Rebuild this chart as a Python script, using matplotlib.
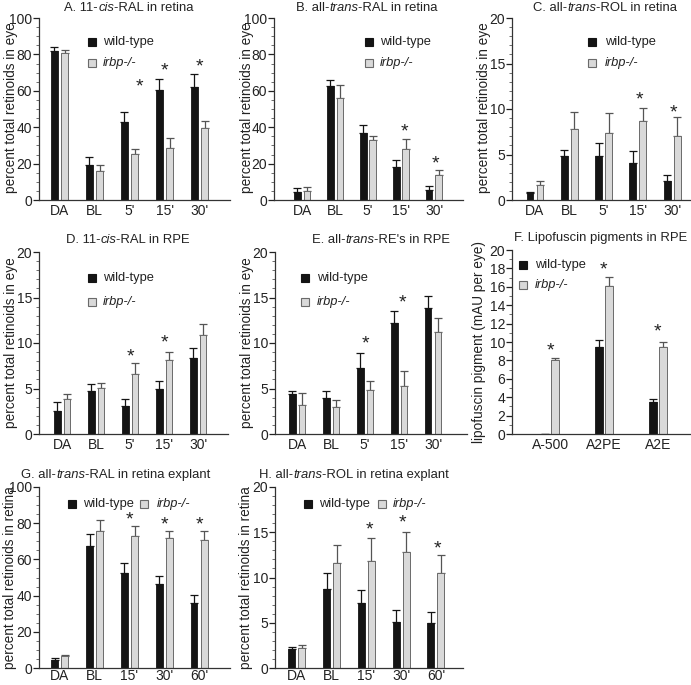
import matplotlib
matplotlib.use("Agg")
import matplotlib.pyplot as plt
from matplotlib.ticker import MultipleLocator

plt.rcParams['font.family'] = ['Liberation Sans', 'DejaVu Sans']

W, H = 691, 685

# ---------------- data ----------------
cats_eye = ['DA', 'BL', "5'", "15'", "30'"]
cats_explant = ['DA', 'BL', "15'", "30'", "60'"]
cats_lipo = ['A-500', 'A2PE', 'A2E']

A_wt = [82, 19.5, 43, 60.5, 62]
A_wt_err = [2, 4, 5.5, 6, 7]
A_ko = [80.5, 16, 25.5, 28.5, 39.5]
A_ko_err = [2, 3, 2.5, 5.5, 4]
A_stars = [(2, 62, 0.28), (3, 71, 0.0), (4, 73, 0.0)]

B_wt = [4.5, 62.5, 37, 18, 5.5]
B_wt_err = [2, 3.5, 4, 4, 2]
B_ko = [5, 56, 33, 28, 14]
B_ko_err = [2, 7, 2, 5.5, 2.5]
B_stars = [(3, 37.5, 0.1), (4, 20, 0.05)]

C_wt = [0.8, 4.8, 4.8, 4.1, 2.1]
C_wt_err = [0.1, 0.7, 1.45, 1.25, 0.7]
C_ko = [1.6, 7.8, 7.4, 8.7, 7.0]
C_ko_err = [0.45, 1.85, 2.2, 1.4, 2.1]
C_stars = [(3, 11.0, 0.05), (4, 9.6, 0.05)]

D_wt = [2.5, 4.7, 3.1, 4.95, 8.35]
D_wt_err = [1.0, 0.75, 0.7, 0.85, 1.05]
D_ko = [3.85, 5.1, 6.6, 8.1, 10.9]
D_ko_err = [0.5, 0.55, 1.15, 0.9, 1.15]
D_stars = [(2, 8.5, 0.0), (3, 9.96, 0.0)]

E_wt = [4.4, 3.95, 7.3, 12.2, 13.85]
E_wt_err = [0.3, 0.8, 1.55, 1.35, 1.3]
E_ko = [3.2, 3.0, 4.8, 5.25, 11.25]
E_ko_err = [1.3, 0.7, 1.0, 1.7, 1.55]
E_stars = [(2, 9.9, 0.0), (3, 14.4, 0.1)]

F_wt = [0.05, 9.5, 3.5]
F_wt_err = [0, 0.7, 0.3]
F_ko = [8.0, 16.1, 9.5]
F_ko_err = [0.25, 1.0, 0.55]
F_stars = [(0, 9.0, 0.0), (1, 17.8, 0.0), (2, 11.1, 0.0)]

G_wt = [4.5, 67.5, 52.5, 46.5, 36]
G_wt_err = [1.3, 6.8, 5.3, 4.2, 4.6]
G_ko = [6.8, 75.5, 73, 72, 70.7]
G_ko_err = [0.5, 6.2, 5.4, 3.5, 5.0]
G_stars = [(2, 82, 0.0), (3, 79, 0.0), (4, 79, 0.0)]

H_wt = [2.05, 8.7, 7.2, 5.1, 4.95]
H_wt_err = [0.3, 1.75, 1.45, 1.35, 1.2]
H_ko = [2.2, 11.6, 11.85, 12.85, 10.45]
H_ko_err = [0.35, 2.0, 2.5, 2.2, 2.0]
H_stars = [(2, 15.2, 0.1), (3, 16.0, 0.05), (4, 13.1, 0.05)]

# ---------------- layout ----------------
fig = plt.figure(figsize=(W / 100, H / 100), dpi=100)

BLACK = '#141414'
GRAY = '#d9d9d9'
GRAY_EDGE = '#6a6a6a'
TXT = '#222222'
TICK_FS = 10
TITLE_FS = 9.4
YLAB_FS = 9.8
LEG_FS = 9.3


def px_axes(l, t, r, b):
    return fig.add_axes([l / W, 1 - b / H, (r - l) / W, (b - t) / H])


def fig_text(x, y, s, **kw):
    return fig.text(x / W, 1 - y / H, s, **kw)


def legend_marker(x, y, color, edge):
    fig.lines.append(plt.Line2D([x / W], [1 - y / H], marker='s', markersize=5.2,
                                color=color, markeredgecolor=edge, markeredgewidth=0.8,
                                linestyle='', transform=fig.transFigure))


def panel(box, xlim, ymax, major, minor, cats, wt, wt_err, ko, ko_err, stars,
          bw=0.2, off=0.145, xpad=3):
    ax = px_axes(*box)
    n = len(cats)
    x = list(range(n))
    xw = [i - off for i in x]
    xk = [i + off for i in x]
    ax.bar(xw, wt, width=bw, color=BLACK, edgecolor=BLACK, linewidth=0.6, zorder=2)
    ax.bar(xk, ko, width=bw, color=GRAY, edgecolor=GRAY_EDGE, linewidth=0.7, zorder=2)
    ax.errorbar(xw, wt, yerr=[[0] * n, wt_err], fmt='none', ecolor=BLACK,
                elinewidth=0.9, capsize=2.6, capthick=0.9, zorder=1)
    ax.errorbar(xk, ko, yerr=[[0] * n, ko_err], fmt='none', ecolor='#555555',
                elinewidth=0.9, capsize=2.6, capthick=0.9, zorder=1)
    for gi, yv, dx in stars:
        ax.text(gi + dx, yv, '*', ha='center', va='center', fontsize=14, color=TXT)
    ax.set_xlim(*xlim)
    ax.set_ylim(0, ymax)
    ax.set_xticks(x)
    ax.set_xticklabels(cats)
    ax.yaxis.set_major_locator(MultipleLocator(major))
    ax.yaxis.set_minor_locator(MultipleLocator(minor))
    for s in ('top', 'right'):
        ax.spines[s].set_visible(False)
    for s in ('left', 'bottom'):
        ax.spines[s].set_linewidth(0.9)
        ax.spines[s].set_color('#333333')
    ax.tick_params(axis='y', which='major', direction='out', length=4, width=0.9,
                   labelsize=TICK_FS, pad=1, colors=TXT)
    ax.tick_params(axis='y', which='minor', direction='out', length=2, width=0.6,
                   colors='#555555')
    ax.tick_params(axis='x', which='both', length=0, labelsize=TICK_FS, pad=xpad,
                   colors=TXT)
    return ax


# Panels
panel((39, 18, 230, 200), (-0.586, 4.87), 100, 20, 5, cats_eye, A_wt, A_wt_err, A_ko, A_ko_err, A_stars)
panel((274, 18, 463, 200), (-0.85, 4.88), 100, 20, 5, cats_eye, B_wt, B_wt_err, B_ko, B_ko_err, B_stars)
panel((512, 18, 690, 200), (-0.67, 4.52), 20, 5, 1, cats_eye, C_wt, C_wt_err, C_ko, C_ko_err, C_stars)
panel((39, 252, 228, 434), (-0.68, 4.88), 20, 5, 1, cats_eye, D_wt, D_wt_err, D_ko, D_ko_err, D_stars)
panel((275, 252, 467, 434), (-0.65, 5.0), 20, 5, 1, cats_eye, E_wt, E_wt_err, E_ko, E_ko_err, E_stars)
panel((512, 250, 690, 434), (-0.71, 2.6), 20, 2, 1, cats_lipo, F_wt, F_wt_err, F_ko, F_ko_err, F_stars,
      bw=0.15, off=0.095)
panel((39, 487, 230, 668), (-0.6, 4.89), 100, 20, 5, cats_explant, G_wt, G_wt_err, G_ko, G_ko_err, G_stars,
      xpad=1)
panel((275, 487, 463, 668), (-0.63, 4.78), 20, 5, 1, cats_explant, H_wt, H_wt_err, H_ko, H_ko_err, H_stars,
      xpad=1)

r = fig.canvas.get_renderer()


def rich_title(x, y, pre, ital='', post=''):
    parts = [(pre, 'normal'), (ital, 'italic'), (post, 'normal')]
    texts = []
    widths = []
    for s, st in parts:
        t = fig.text(0, 0, s, fontsize=TITLE_FS, style=st, color=TXT, va='center')
        texts.append(t)
        widths.append(t.get_window_extent(r).width if s else 0.0)
    x0 = x - sum(widths) / 2
    yy = 1 - y / H
    for t, w in zip(texts, widths):
        t.set_position((x0 / W, yy))
        x0 += w


rich_title(129, 8, 'A. 11-', 'cis', '-RAL in retina')
rich_title(367, 8, 'B. all-', 'trans', '-RAL in retina')
rich_title(605, 8, 'C. all-', 'trans', '-ROL in retina')
rich_title(128, 240, 'D. 11-', 'cis', '-RAL in RPE')
rich_title(381, 240, 'E. all-', 'trans', "-RE's in RPE")
rich_title(601, 238, 'F. Lipofuscin pigments in RPE')
rich_title(116, 475, 'G. all-', 'trans', '-RAL in retina explant')
rich_title(354, 475, 'H. all-', 'trans', '-ROL in retina explant')

# Y labels
ylab_kw = dict(rotation=90, ha='center', va='center', fontsize=YLAB_FS, color=TXT)
fig_text(11, 108, 'percent total retinoids in eye', **ylab_kw)
fig_text(247, 108, 'percent total retinoids in eye', **ylab_kw)
fig_text(484, 108, 'percent total retinoids in eye', **ylab_kw)
fig_text(11, 343, 'percent total retinoids in eye', **ylab_kw)
fig_text(247, 343, 'percent total retinoids in eye', **ylab_kw)
fig_text(479, 342, 'lipofuscin pigment (mAU per eye)', **ylab_kw)
fig_text(10, 578, 'percent total retinoids in retina', **ylab_kw)
fig_text(246, 578, 'percent total retinoids in retina', **ylab_kw)

# Legends
leg_kw = dict(ha='left', va='center', fontsize=LEG_FS, color=TXT)


def legend_v(mx, y1, y2, tx):
    legend_marker(mx, y1, BLACK, BLACK)
    legend_marker(mx, y2, GRAY, GRAY_EDGE)
    fig_text(tx, y1, 'wild-type', **leg_kw)
    fig_text(tx, y2, 'irbp-/-', style='italic', **leg_kw)


def legend_h(mx1, tx1, mx2, tx2, y):
    legend_marker(mx1, y, BLACK, BLACK)
    legend_marker(mx2, y, GRAY, GRAY_EDGE)
    fig_text(tx1, y, 'wild-type', **leg_kw)
    fig_text(tx2, y, 'irbp-/-', style='italic', **leg_kw)


legend_v(92, 42, 63, 103)
legend_v(369, 42, 63, 380)
legend_v(592, 42, 63, 605)
legend_v(92, 278, 302, 103)
legend_v(305, 278, 302, 317)
legend_v(523, 265, 285, 535)
legend_h(72, 83, 144, 157, 504)
legend_h(308, 319, 382, 393, 504)

fig.savefig('out.png', dpi=100)
